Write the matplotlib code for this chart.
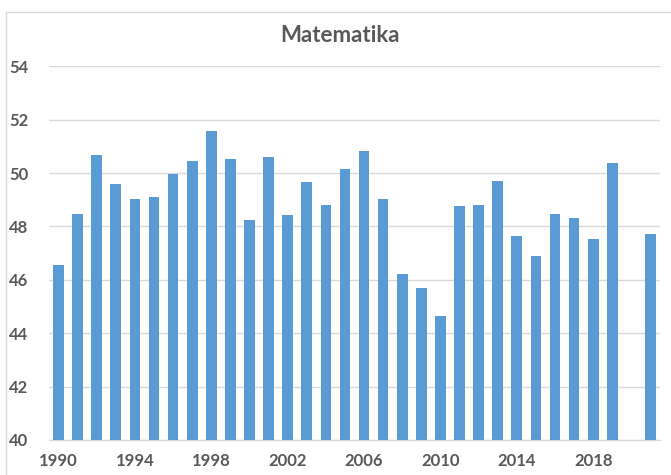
import numpy as np
import matplotlib.pyplot as plt
from matplotlib.patches import Rectangle

years = list(range(1990, 2022))
# 2020 has no value
scores = [46.55, 48.45, 50.67, 49.59, 49.01, 49.09, 49.96, 50.45, 51.56, 50.51,
          48.25, 50.60, 48.43, 49.66, 48.79, 50.14, 50.81, 49.01, 46.20, 45.68,
          44.66, 48.76, 48.79, 49.70, 47.64, 46.89, 48.48, 48.30, 47.53, 50.36,
          np.nan, 47.70]
tick_years = [1990, 1994, 1998, 2002, 2006, 2010, 2014, 2018]
yticks = [40, 42, 44, 46, 48, 50, 52, 54]

plt.rcParams['font.family'] = ['Lato', 'DejaVu Sans']
txt = '#595959'

fig = plt.figure(figsize=(6.71, 4.75), dpi=100)
fig.patches.append(Rectangle((6 / 671, -0.1), 1.2, (475 - 12) / 475 + 0.1,
                             transform=fig.transFigure, fill=False,
                             edgecolor='#d9d9d9', linewidth=1))

ax = fig.add_axes([49 / 671, 35 / 475, 611 / 671, (440 - 66.2) / 475])
x = np.arange(len(years))
vals = np.array(scores)
mask = ~np.isnan(vals)
ax.bar(x[mask], vals[mask] - 40, bottom=40, width=0.56, color='#5B9BD5',
       zorder=3)

ax.set_xlim(-0.5, len(years) - 0.5)
ax.set_ylim(40, 54)
ax.set_yticks(yticks)
ax.set_yticklabels([str(v) for v in yticks], color=txt, fontsize=12,
                   fontweight='bold')
ax.set_xticks([years.index(y) for y in tick_years])
ax.set_xticklabels([str(y) for y in tick_years], color=txt, fontsize=12,
                   fontweight='bold')
ax.tick_params(axis='y', length=0, pad=15)
ax.tick_params(axis='x', length=0, pad=9)
ax.grid(axis='y', color='#d9d9d9', linewidth=1, zorder=0)
for s in ['top', 'right', 'left']:
    ax.spines[s].set_visible(False)
ax.spines['bottom'].set_color('#d9d9d9')

fig.text(340 / 671, 1 - 36 / 475, 'Matematika', ha='center', va='center',
         fontsize=16, fontweight='bold', color=txt)

fig.savefig('out.png', dpi=100)
